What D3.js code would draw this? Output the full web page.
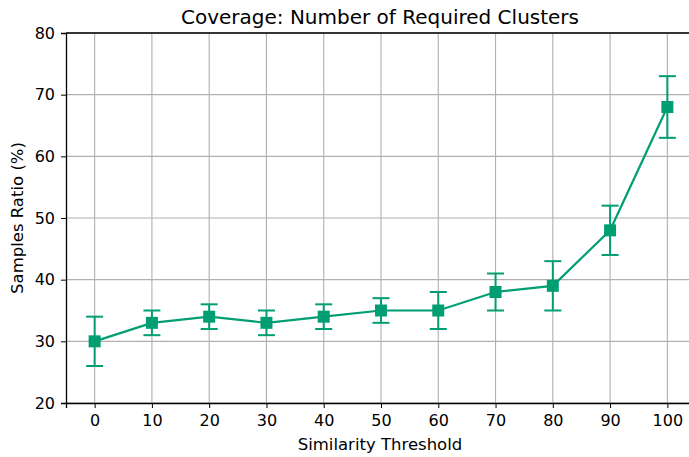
<!DOCTYPE html>
<html>
<head>
<meta charset="utf-8">
<script src="https://cdn.jsdelivr.net/npm/d3@7"></script>
<style>
  html, body { margin: 0; padding: 0; background: #fff; }
  svg { display: block; font-family: "DejaVu Sans", sans-serif; }
</style>
</head>
<body>
<svg id="chart" width="689" height="457"></svg>
<script>
// Similarity thresholds and coverage measurements
const thresholds = [0, 10, 20, 30, 40, 50, 60, 70, 80, 90, 100];
const ratio      = [30, 33, 34, 33, 34, 35, 35, 38, 39, 48, 68];
const errLow     = [26, 31, 32, 31, 32, 33, 32, 35, 35, 44, 63];
const errHigh    = [34, 35, 36, 35, 36, 37, 38, 41, 43, 52, 73];
const yTicks     = [20, 30, 40, 50, 60, 70, 80];

const title  = "Coverage: Number of Required Clusters";
const xTitle = "Similarity Threshold";
const yTitle = "Samples Ratio (%)";

const color = "#029e73";
const grid  = "#b0b0b0";

const svg = d3.select("#chart");
const margin = { left: 66, top: 33, right: -7, bottom: 54 };
const W = 689, H = 457;

const x = d3.scaleLinear().domain([-5, 105]).range([margin.left, W - margin.right]);
const y = d3.scaleLinear().domain([20, 80]).range([H - margin.bottom, margin.top]);

// grid lines
svg.append("g").selectAll("line.vg").data(thresholds).join("line")
  .attr("x1", d => x(d)).attr("x2", d => x(d))
  .attr("y1", y(20)).attr("y2", y(80))
  .attr("stroke", grid).attr("stroke-width", 1.1);
svg.append("g").selectAll("line.hg").data(yTicks).join("line")
  .attr("x1", x(-5)).attr("x2", x(105))
  .attr("y1", d => y(d)).attr("y2", d => y(d))
  .attr("stroke", grid).attr("stroke-width", 1.1);

// axes
const xAxis = svg.append("g")
  .attr("transform", `translate(0,${y(20)})`)
  .call(d3.axisBottom(x).tickValues(thresholds).tickSize(5).tickPadding(7));
const yAxis = svg.append("g")
  .attr("transform", `translate(${x(-5)},0)`)
  .call(d3.axisLeft(y).tickValues(yTicks).tickSize(5).tickPadding(6));
[xAxis, yAxis].forEach(a => {
  a.selectAll("text").attr("font-size", 16).attr("font-family", "DejaVu Sans").attr("fill", "#000");
  a.selectAll("line").attr("stroke", "#000").attr("stroke-width", 1);
  a.select(".domain").attr("stroke", "#000").attr("stroke-width", 1.3);
});
// top spine
svg.append("line")
  .attr("x1", x(-5)).attr("x2", x(105))
  .attr("y1", y(80)).attr("y2", y(80))
  .attr("stroke", "#000").attr("stroke-width", 1.3);

// connecting line
svg.append("path")
  .datum(thresholds.map((t, i) => [t, ratio[i]]))
  .attr("fill", "none").attr("stroke", color).attr("stroke-width", 2.2)
  .attr("d", d3.line().x(d => x(d[0])).y(d => y(d[1])));

// error bars with caps
const eb = svg.append("g").attr("stroke", color).attr("stroke-width", 2);
thresholds.forEach((t, i) => {
  const cx = x(t);
  eb.append("line").attr("x1", cx).attr("x2", cx).attr("y1", y(errLow[i])).attr("y2", y(errHigh[i]));
  eb.append("line").attr("x1", cx - 8.5).attr("x2", cx + 8.5).attr("y1", y(errLow[i])).attr("y2", y(errLow[i]));
  eb.append("line").attr("x1", cx - 8.5).attr("x2", cx + 8.5).attr("y1", y(errHigh[i])).attr("y2", y(errHigh[i]));
});

// square markers
const ms = 12;
svg.append("g").selectAll("rect").data(thresholds).join("rect")
  .attr("x", d => x(d) - ms / 2)
  .attr("y", (d, i) => y(ratio[i]) - ms / 2)
  .attr("width", ms).attr("height", ms)
  .attr("fill", color);

// titles
svg.append("text").attr("x", 380).attr("y", 24).attr("text-anchor", "middle")
  .attr("font-size", 20).text(title);
svg.append("text").attr("x", 380).attr("y", 450).attr("text-anchor", "middle")
  .attr("font-size", 16.5).text(xTitle);
svg.append("text").attr("transform", `translate(23,${(y(20) + y(80)) / 2}) rotate(-90)`)
  .attr("text-anchor", "middle").attr("font-size", 16.5).text(yTitle);
</script>
</body>
</html>
